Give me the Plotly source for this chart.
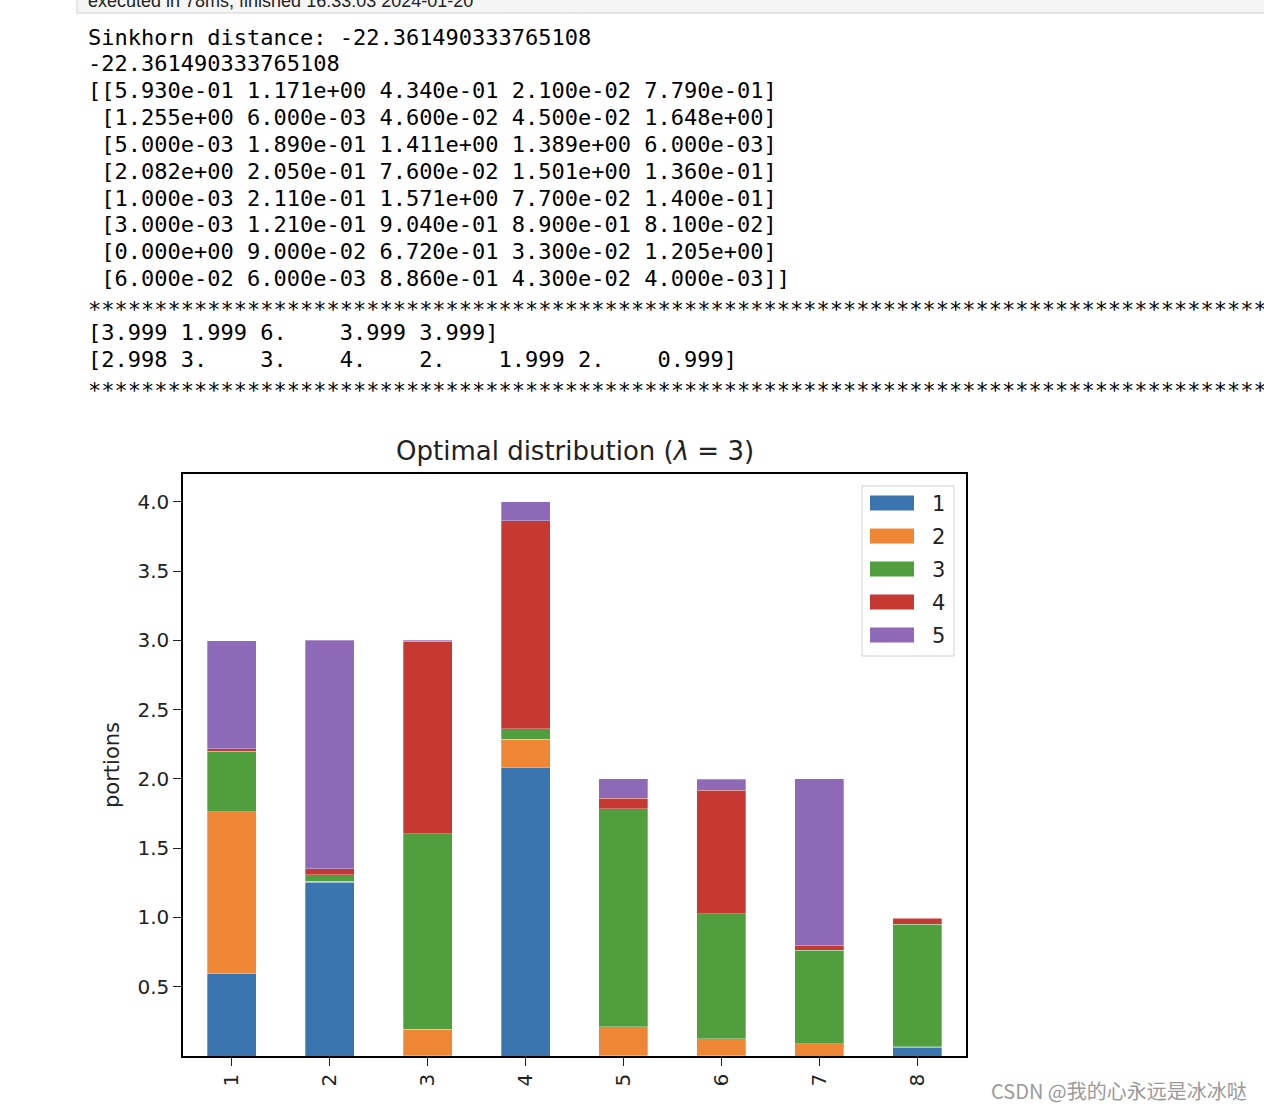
import plotly.graph_objects as go

# ---------------- data ----------------
categories = ["1", "2", "3", "4", "5", "6", "7", "8"]
series_names = ["1", "2", "3", "4", "5"]
s1 = [0.593, 1.255, 0.005, 2.082, 0.001, 0.003, 0.000, 0.060]
s2 = [1.171, 0.006, 0.189, 0.205, 0.211, 0.121, 0.090, 0.006]
s3 = [0.434, 0.046, 1.411, 0.076, 1.571, 0.904, 0.672, 0.886]
s4 = [0.021, 0.045, 1.389, 1.501, 0.077, 0.890, 0.033, 0.043]
s5 = [0.779, 1.648, 0.006, 0.136, 0.140, 0.081, 1.205, 0.004]
series_values = [s1, s2, s3, s4, s5]
colors = ["#3a75af", "#ef8636", "#519e3e", "#c53932", "#8d69b8"]
ytick_vals = [0.5, 1.0, 1.5, 2.0, 2.5, 3.0, 3.5, 4.0]
ytick_text = ["0.5", "1.0", "1.5", "2.0", "2.5", "3.0", "3.5", "4.0"]

sinkhorn = "-22.361490333765108"
col_sums_txt = "[3.999 1.999 6.    3.999 3.999]"
row_sums_txt = "[2.998 3.    3.    4.    2.    1.999 2.    0.999]"

# ---------------- layout helpers (pixel -> paper) ----------------
W, H = 1264, 1110
L, R, T, B = 183, 966, 474, 1056


def px(x):
    return (x - L) / (R - L)


def py(y):
    return (B - y) / (B - T)


fig = go.Figure()
for name, vals, col in zip(series_names, series_values, colors):
    fig.add_trace(go.Bar(x=categories, y=vals, name=name, width=0.5,
                         marker=dict(color=col, line=dict(width=0.6, color="rgba(255,255,255,0.5)")),
                         showlegend=False))

mono = "DejaVu Sans Mono"
ann = []
shapes = []

# notebook header box (cut off at the top)
shapes.append(dict(type="rect", xref="paper", yref="paper", x0=px(77), x1=px(1290),
                   y0=py(-20), y1=py(13), fillcolor="#f5f5f5",
                   line=dict(color="#cfcfcf", width=1), layer="below"))
ann.append(dict(text="executed in 78ms, finished 16:33:03 2024-01-20", x=px(86), y=py(1),
                xref="paper", yref="paper", xanchor="left", yanchor="middle", showarrow=False,
                font=dict(family="Liberation Sans", size=18, color="#222")))

# printed output lines
rows = list(zip(*series_values))
lines = ["Sinkhorn distance: " + sinkhorn, sinkhorn]
for i, r in enumerate(rows):
    body = " ".join("{:.3e}".format(v) for v in r)
    if i == 0:
        lines.append("[[" + body + "]")
    elif i == len(rows) - 1:
        lines.append(" [" + body + "]]")
    else:
        lines.append(" [" + body + "]")
lines.append("*" * 100)
lines.append(col_sums_txt)
lines.append(row_sums_txt)
lines.append("*" * 100)
for i, t in enumerate(lines):
    yy = 37 + 26.85 * i
    if t.startswith("*"):
        yy += 4
    ann.append(dict(text=t.replace(" ", "&nbsp;"), x=px(86), y=py(yy), xref="paper", yref="paper",
                    xanchor="left", yanchor="middle", showarrow=False,
                    font=dict(family=mono, size=22, color="#000")))

# title
ann.append(dict(text="Optimal distribution (<i>λ</i> = 3)", x=0.5, y=py(451), xref="paper", yref="paper",
                xanchor="center", yanchor="middle", showarrow=False,
                font=dict(family="DejaVu Sans", size=26, color="#222")))
# y label
ann.append(dict(text="portions", x=px(112), y=0.5, xref="paper", yref="paper", textangle=-90,
                xanchor="center", yanchor="middle", showarrow=False,
                font=dict(family="DejaVu Sans", size=21, color="#222")))

# legend (custom, matplotlib-style)
shapes.append(dict(type="rect", xref="paper", yref="paper", x0=px(862), x1=px(954), y0=py(656), y1=py(486),
                   fillcolor="rgba(255,255,255,0.8)", line=dict(color="#d0d0d0", width=1)))
for i, (name, col) in enumerate(zip(series_names, colors)):
    cy = 503 + 33 * i
    shapes.append(dict(type="rect", xref="paper", yref="paper", x0=px(870), x1=px(914),
                       y0=py(cy + 7.5), y1=py(cy - 7.5), fillcolor=col, line=dict(width=0)))
    ann.append(dict(text=name, x=px(930), y=py(cy + 1), xref="paper", yref="paper",
                    xanchor="left", yanchor="middle", showarrow=False,
                    font=dict(family="DejaVu Sans", size=21, color="#222")))

# watermark
ann.append(dict(text="CSDN @我的心永远是冰冰哒", x=px(1249), y=py(1090), xref="paper", yref="paper",
                xanchor="right", yanchor="middle", showarrow=False,
                font=dict(family="Noto Sans CJK SC", size=20, color="#9a9a9a")))

fig.update_layout(
    width=W, height=H, autosize=False,
    margin=dict(l=L, r=W - R, t=T, b=H - B, pad=0),
    paper_bgcolor="white", plot_bgcolor="white",
    barmode="stack", bargap=0.5,
    annotations=ann, shapes=shapes,
    showlegend=False,
    font=dict(family="DejaVu Sans", color="#222"),
)
fig.update_xaxes(type="category", range=[-0.5, 7.5], showline=True, mirror=True, linecolor="black",
                 linewidth=1.5, ticks="outside", ticklen=8, tickwidth=1.2, tickcolor="#222",
                 tickangle=-90, tickfont=dict(size=20, family="DejaVu Sans", color="#222"),
                 showgrid=False, zeroline=False)
fig.update_yaxes(range=[0, 4.2], tickvals=ytick_vals, ticktext=ytick_text, showline=True, mirror=True,
                 linecolor="black", linewidth=1.5, ticks="outside", ticklen=8, tickwidth=1.2, tickcolor="#222",
                 tickfont=dict(size=20, family="DejaVu Sans", color="#222"), showgrid=False, zeroline=False)

fig.write_html("out.html")
